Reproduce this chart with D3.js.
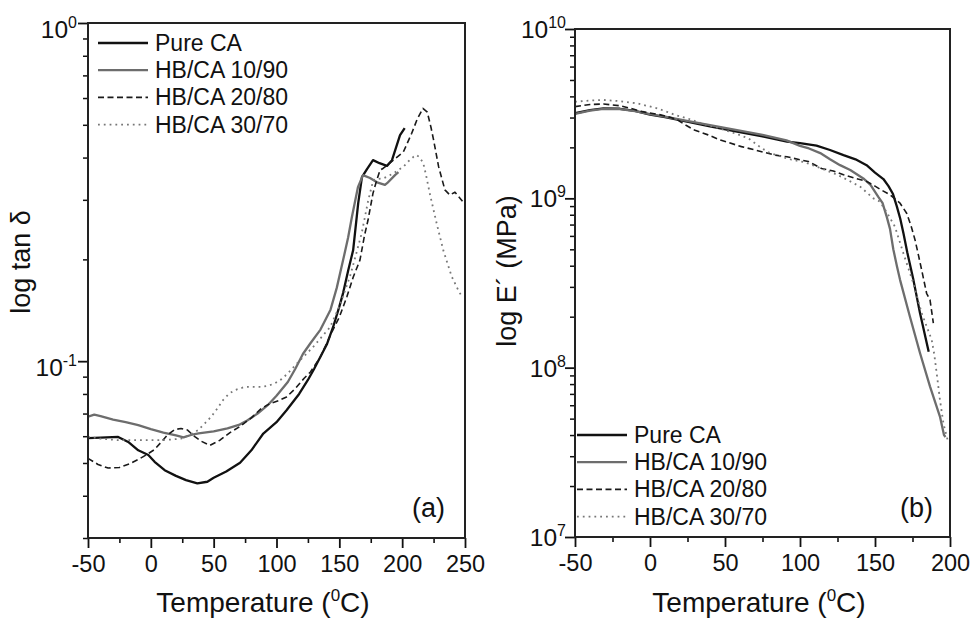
<!DOCTYPE html>
<html>
<head>
<meta charset="utf-8">
<script src="https://cdn.jsdelivr.net/npm/d3@7"></script>
<style>
  html, body { margin: 0; padding: 0; background: #fff; }
  svg { display: block; font-family: "Liberation Sans", Arial, Helvetica, sans-serif; }
</style>
</head>
<body>
<svg id="chart" width="974" height="618"></svg>
<script>
// ---------------- DATA ----------------
const seriesNames = ["Pure CA", "HB/CA 10/90", "HB/CA 20/80", "HB/CA 30/70"];

// Panel (a): log tan δ vs Temperature (°C)
const tanPure = [[-50,0.0592],[-40,0.0594],[-26,0.0597],[-18,0.0577],[-10,0.0545],[-2,0.0528],[3,0.0504],[11,0.0476],[20,0.0458],[28,0.0445],[37,0.0435],[45,0.0440],[50,0.0452],[60,0.0472],[71,0.0501],[80,0.0545],[89.5,0.0611],[100,0.0660],[108,0.0716],[118,0.0800],[125,0.088],[130,0.095],[140,0.112],[145,0.126],[150,0.145],[153,0.159],[157,0.185],[161,0.213],[165,0.293],[168,0.350],[172,0.370],[176.8,0.393],[182,0.385],[187.9,0.378],[191.9,0.393],[198.3,0.466],[202,0.489]];
const tan1090 = [[-50,0.0685],[-45,0.0695],[-40,0.0688],[-30,0.0672],[-20,0.0660],[-10,0.0647],[0,0.0630],[10,0.0615],[20,0.0603],[26,0.0595],[32,0.0605],[38,0.0612],[50,0.0620],[61,0.0633],[70,0.0648],[77,0.0669],[85,0.0700],[93,0.0741],[100,0.0790],[109,0.0868],[115,0.095],[121,0.105],[127,0.113],[135,0.124],[143,0.142],[148,0.165],[153,0.199],[157,0.232],[160,0.267],[164.8,0.327],[168.8,0.355],[174.4,0.348],[180,0.338],[186.3,0.332],[188,0.336],[194.3,0.355],[197,0.362]];
const tan2080 = [[-50,0.0516],[-42,0.0495],[-34,0.0483],[-25,0.0485],[-17,0.0497],[-10,0.0512],[-3,0.0530],[3,0.0548],[8,0.0575],[13,0.0604],[19,0.0628],[24,0.0632],[29,0.0626],[35,0.0598],[40,0.0580],[47,0.0564],[55,0.0584],[63,0.0615],[71,0.0641],[80,0.0680],[88,0.0725],[95,0.0750],[102,0.0765],[108,0.0784],[115,0.0830],[122,0.0890],[127,0.0929],[135,0.103],[145,0.124],[150,0.135],[156,0.155],[161,0.177],[166.4,0.199],[170,0.235],[172.8,0.261],[176.8,0.314],[180,0.345],[182.4,0.367],[185,0.372],[193,0.393],[201,0.416],[207.6,0.472],[212,0.52],[216.5,0.559],[220,0.545],[223,0.49],[225,0.451],[229,0.376],[234,0.321],[238,0.310],[242,0.316],[248,0.297]];
const tan3070 = [[-50,0.0597],[-40,0.0590],[-26,0.0584],[-10,0.0584],[5.7,0.0584],[15,0.0586],[24,0.0590],[31,0.0605],[37.5,0.0625],[43,0.0655],[48,0.0685],[53,0.0725],[57.4,0.0767],[62,0.0800],[66.7,0.0821],[74.7,0.0839],[81,0.0840],[87.7,0.0839],[93,0.0845],[98.5,0.0859],[104,0.0885],[109,0.092],[118.7,0.1006],[129,0.110],[136,0.118],[142.6,0.126],[150,0.145],[158.5,0.178],[163,0.205],[167.8,0.239],[173,0.299],[177,0.343],[181,0.346],[185,0.347],[193,0.359],[201,0.376],[205,0.390],[209,0.402],[211.5,0.407],[214,0.400],[216.8,0.385],[219,0.355],[222,0.313],[227.5,0.255],[232.7,0.213],[239.4,0.178],[244.7,0.162],[248,0.154]];

// Panel (b): log E' vs Temperature (°C)
const ePure = [[-50,3.18e9],[-40,3.32e9],[-31,3.40e9],[-20,3.38e9],[-10,3.28e9],[0,3.12e9],[10,3.02e9],[24.7,2.84e9],[40,2.66e9],[58,2.48e9],[75,2.32e9],[91.3,2.16e9],[100,2.12e9],[111,2.05e9],[120,1.93e9],[129,1.80e9],[137,1.70e9],[144.4,1.57e9],[150,1.42e9],[155.6,1.30e9],[159,1.18e9],[162,1.06e9],[164.5,9.0e8],[166.8,7.6e8],[169,6.2e8],[171.5,4.8e8],[175.6,3.3e8],[180,2.1e8],[185.8,1.24e8]];
const e1090 = [[-50,3.15e9],[-40,3.30e9],[-31,3.38e9],[-20,3.36e9],[-10,3.27e9],[0,3.14e9],[10,3.04e9],[24.7,2.87e9],[40,2.71e9],[58,2.53e9],[75,2.37e9],[91,2.20e9],[100,2.04e9],[106,1.97e9],[113.5,1.85e9],[120,1.70e9],[126.7,1.57e9],[133.5,1.47e9],[142.2,1.31e9],[147,1.20e9],[152.2,1.02e9],[155,9.4e8],[157.8,7.8e8],[160,6.6e8],[162.2,5.0e8],[164.7,3.95e8],[166.7,3.30e8],[173.3,2.0e8],[180,1.22e8],[186.7,7.73e7],[193.3,5.14e7],[196,4.0e7],[197,3.9e7]];
const e2080 = [[-50,3.48e9],[-40,3.58e9],[-31,3.61e9],[-20,3.52e9],[-13,3.40e9],[-5,3.25e9],[7,3.11e9],[14,3.0e9],[19,2.88e9],[24,2.70e9],[30,2.52e9],[38.7,2.37e9],[46.9,2.21e9],[61,2.02e9],[70,1.93e9],[83.3,1.80e9],[91.3,1.76e9],[100,1.69e9],[105.6,1.65e9],[114.4,1.50e9],[122.2,1.45e9],[129,1.38e9],[137,1.31e9],[144.4,1.26e9],[150,1.18e9],[155,1.11e9],[160,1.05e9],[166.7,9.36e8],[171.1,8.17e8],[174,6.9e8],[176.7,5.68e8],[179,4.6e8],[181.1,3.78e8],[184.4,2.75e8],[186.7,2.51e8],[188.9,1.83e8]];
const e3070 = [[-50,3.72e9],[-40,3.78e9],[-31,3.81e9],[-20,3.75e9],[-8.7,3.64e9],[5,3.40e9],[16.7,3.11e9],[24.7,2.97e9],[35,2.76e9],[46.9,2.58e9],[56.7,2.42e9],[65.6,2.26e9],[74.4,1.98e9],[80,1.85e9],[94.4,1.69e9],[102.4,1.64e9],[114.4,1.50e9],[124.7,1.38e9],[132,1.28e9],[140.2,1.17e9],[148.9,1.0e9],[153,9.6e8],[157.8,8.3e8],[163.3,6.8e8],[168.9,4.74e8],[175.6,3.15e8],[181.1,2.10e8],[185,1.70e8],[187.8,1.46e8],[189.5,1.2e8],[191.1,9.29e7],[193.3,6.46e7],[195.6,4.7e7],[197.8,3.92e7],[199,3.58e7]];

// Tick values / labels
const xTicksA = [-50, 0, 50, 100, 150, 200, 250];
const xTicksB = [-50, 0, 50, 100, 150, 200];
const yMajorA = [1, 0.1];
const yExpA = ["0", "-1"];
const yMajorB = [1e10, 1e9, 1e8, 1e7];
const yExpB = ["10", "9", "8", "7"];

// ---------------- DRAW ----------------
const svg = d3.select("#chart");
const FONT = '"Liberation Sans", Arial, Helvetica, sans-serif';

const styles = [
  { stroke: "#111", width: 2.3, dash: null },
  { stroke: "#6d6d6d", width: 2.3, dash: null },
  { stroke: "#1a1a1a", width: 1.6, dash: "6,3.5" },
  { stroke: "#777", width: 1.8, dash: "1.8,4" }
];

function panel(cfg) {
  const g = svg.append("g");
  const x = d3.scaleLinear().domain(cfg.xDomain).range([cfg.x0, cfg.x1]);
  const y = d3.scaleLog().domain(cfg.yDomain).range([cfg.y1, cfg.y0]);

  const clipId = "clip" + cfg.id;
  svg.append("clipPath").attr("id", clipId).append("rect")
    .attr("x", cfg.x0).attr("y", cfg.y0)
    .attr("width", cfg.x1 - cfg.x0).attr("height", cfg.y1 - cfg.y0);

  // lines
  const line = d3.line().x(d => x(d[0])).y(d => y(d[1])).curve(d3.curveLinear);
  cfg.series.forEach((s, i) => {
    const st = styles[i];
    g.append("path").datum(s)
      .attr("clip-path", `url(#${clipId})`)
      .attr("fill", "none")
      .attr("stroke", st.stroke)
      .attr("stroke-width", st.width)
      .attr("stroke-linejoin", "round")
      .attr("stroke-dasharray", st.dash)
      .attr("d", line);
  });

  // x axis major
  const xAxis = g.append("g").attr("transform", `translate(0,${cfg.y1})`)
    .call(d3.axisBottom(x).tickValues(cfg.xTicks).tickSize(10).tickSizeOuter(0).tickFormat(d => String(d)));
  xAxis.select(".domain").remove();
  xAxis.selectAll(".tick line").attr("stroke", "#111").attr("stroke-width", 1.8);
  xAxis.selectAll(".tick text").attr("y", 34).attr("dy", null)
    .attr("font-size", 23.5).attr("font-family", FONT).attr("fill", "#111");

  // x minor
  const xMinor = d3.range(cfg.xDomain[0] + 25, cfg.xDomain[1], 50);
  const xm = g.append("g").attr("transform", `translate(0,${cfg.y1})`)
    .call(d3.axisBottom(x).tickValues(xMinor).tickSize(5).tickSizeOuter(0).tickFormat(""));
  xm.select(".domain").remove();
  xm.selectAll(".tick line").attr("stroke", "#111").attr("stroke-width", 1.6);

  // y axis major
  const yAx = g.append("g").attr("transform", `translate(${cfg.x0},0)`)
    .call(d3.axisLeft(y).tickValues(cfg.yMajor).tickSize(10).tickSizeOuter(0).tickFormat(""));
  yAx.select(".domain").remove();
  yAx.selectAll(".tick line").attr("stroke", "#111").attr("stroke-width", 1.8);

  // y minor
  const minors = [];
  const lo = Math.floor(Math.log10(cfg.yDomain[0]) + 1e-9), hi = Math.ceil(Math.log10(cfg.yDomain[1]) - 1e-9);
  for (let e = lo; e < hi; e++) {
    for (let k = 2; k <= 9; k++) {
      const v = k * Math.pow(10, e);
      if (v >= cfg.yDomain[0] * 0.999 && v <= cfg.yDomain[1]) minors.push(v);
    }
  }
  const ym = g.append("g").attr("transform", `translate(${cfg.x0},0)`)
    .call(d3.axisLeft(y).tickValues(minors).tickSize(5).tickSizeOuter(0).tickFormat(""));
  ym.select(".domain").remove();
  ym.selectAll(".tick line").attr("stroke", "#111").attr("stroke-width", 1.5);

  // y labels with superscripts
  cfg.yMajor.forEach((v, i) => {
    const t = g.append("text")
      .attr("x", cfg.labelX).attr("y", y(v) + cfg.labelDy)
      .attr("text-anchor", "end").attr("font-size", 24.5).attr("font-family", FONT).attr("fill", "#111");
    t.append("tspan").text("10");
    t.append("tspan").attr("dy", -10).attr("font-size", 16).text(cfg.yExp[i]);
  });

  // frame
  g.append("rect").attr("x", cfg.x0).attr("y", cfg.y0)
    .attr("width", cfg.x1 - cfg.x0).attr("height", cfg.y1 - cfg.y0)
    .attr("fill", "none").attr("stroke", "#222").attr("stroke-width", 2);

  // x title
  const xt = g.append("text").attr("x", cfg.xTitleX).attr("y", 612)
    .attr("text-anchor", "middle").attr("font-size", 28).attr("font-family", FONT).attr("fill", "#111");
  xt.append("tspan").text("Temperature (");
  xt.append("tspan").attr("dy", -11).attr("font-size", 17).text("0");
  xt.append("tspan").attr("dy", 11).text("C)");

  // y title
  g.append("text")
    .attr("transform", `translate(${cfg.yTitleX},${cfg.yTitleY}) rotate(-90)`)
    .attr("text-anchor", "middle").attr("font-size", 27).attr("font-family", FONT).attr("fill", "#111")
    .text(cfg.yTitle);

  // panel label
  g.append("text").attr("x", cfg.tagX).attr("y", 517)
    .attr("font-size", 27).attr("font-family", FONT).attr("fill", "#111").text(cfg.tag);

  // legend
  seriesNames.forEach((name, i) => {
    const st = styles[i];
    const yy = cfg.legY + i * 27.2;
    g.append("line").attr("x1", cfg.legX).attr("x2", cfg.legX + 50)
      .attr("y1", yy).attr("y2", yy)
      .attr("stroke", st.stroke).attr("stroke-width", st.width)
      .attr("stroke-dasharray", st.dash);
    g.append("text").attr("x", cfg.legX + 57).attr("y", yy + 8)
      .attr("font-size", 23).attr("font-family", FONT).attr("fill", "#111").text(name);
  });
}

panel({
  id: "a", x0: 88, x1: 465, y0: 23, y1: 538,
  xDomain: [-50, 250], yDomain: [0.03, 1],
  xTicks: xTicksA, yMajor: yMajorA, yExp: yExpA,
  labelX: 77, labelDy: 15,
  series: [tanPure, tan1090, tan2080, tan3070],
  xTitleX: 263, yTitleX: 30, yTitleY: 262, yTitle: "log tan \u03b4",
  tag: "(a)", tagX: 412,
  legX: 98, legY: 43
});

panel({
  id: "b", x0: 575, x1: 950, y0: 29, y1: 537,
  xDomain: [-50, 200], yDomain: [1e7, 1e10],
  xTicks: xTicksB, yMajor: yMajorB, yExp: yExpB,
  labelX: 566, labelDy: 9,
  series: [ePure, e1090, e2080, e3070],
  xTitleX: 759, yTitleX: 516, yTitleY: 271, yTitle: "log E\u00b4 (MPa)",
  tag: "(b)", tagX: 900,
  legX: 577, legY: 435
});
</script>
</body>
</html>
